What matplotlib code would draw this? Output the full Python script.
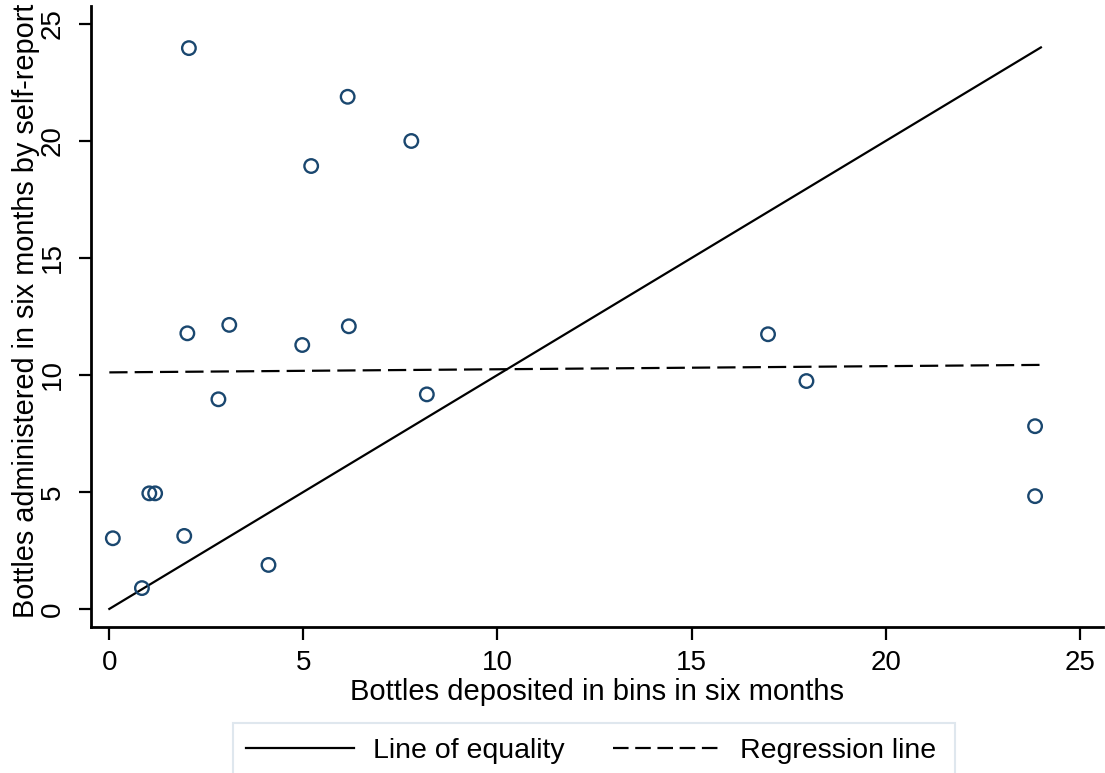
import matplotlib
matplotlib.use("Agg")
import matplotlib.pyplot as plt
from matplotlib.patches import Rectangle
import numpy as np

plt.rcParams['font.family'] = ['Liberation Sans', 'DejaVu Sans']

# Data
deposited = [0.09, 0.84, 1.03, 1.18, 1.93, 2.01, 2.05, 2.81, 3.09, 4.10,
             4.97, 5.20, 6.14, 6.17, 7.78, 8.18, 16.97, 17.96, 23.85, 23.85]
self_report = [3.02, 0.89, 4.94, 4.94, 3.12, 11.78, 23.97, 8.96, 12.14, 1.88,
               11.28, 18.93, 21.89, 12.08, 20.00, 9.17, 11.74, 9.74, 7.81, 4.82]

equality_x = [0, 24]
equality_y = [0, 24]
regression_x = [0, 24]
regression_y = [10.11, 10.43]

x_ticks = [0, 5, 10, 15, 20, 25]
y_ticks = [0, 5, 10, 15, 20, 25]

navy = '#1a476f'
W, H = 1105, 773

fig = plt.figure(figsize=(W/100, H/100), dpi=100)
ax = fig.add_axes([90.7/W, 1 - 626.7/H, (1103 - 90.7)/W, (626.7 - 6)/H])

ax.scatter(deposited, self_report, s=95, facecolors='none', edgecolors=navy,
           linewidths=1.7, zorder=3)
l1, = ax.plot(equality_x, equality_y, color='black', lw=1.6, label='Line of equality')
l2, = ax.plot(regression_x, regression_y, color='black', lw=1.6,
              label='Regression line')
l2.set_dashes([8.2, 3.2])

ax.set_xlim(-0.48, 25.6)
ax.set_ylim(-0.76, 25.77)
ax.set_xticks(x_ticks)
ax.set_yticks(y_ticks)
for s in ['top', 'right']:
    ax.spines[s].set_visible(False)
for s in ['left', 'bottom']:
    ax.spines[s].set_linewidth(2.0)
ax.tick_params(axis='both', direction='out', length=9, width=1.6, labelsize=20)
ax.tick_params(axis='x', pad=8)
ax.tick_params(axis='y', pad=9)
for lab in ax.get_yticklabels():
    lab.set_rotation(90)
    lab.set_va('center')

ax.set_xlabel('Bottles deposited in bins in six months', fontsize=21, labelpad=1.5)
ax.set_ylabel('Bottles administered in six months by self-report', fontsize=20.8)
ax.yaxis.set_label_coords(-0.0503, 0.5086)

leg = fig.legend(handles=[l1, l2], loc='upper left',
                 bbox_to_anchor=(233/W, 1 - 725/H), ncol=2, fontsize=20.5,
                 frameon=False, handlelength=3.8, columnspacing=1.72,
                 handletextpad=0.66, borderpad=0.45, borderaxespad=0)
leg.legend_handles[1].set_dashes([7.0, 3.0])

frame = Rectangle((233/W, 1 - 790/H), (955 - 233)/W, (790 - 722.7)/H,
                  transform=fig.transFigure, facecolor='none',
                  edgecolor='#dfe7ee', linewidth=1.5, clip_on=False)
fig.add_artist(frame)

fig.savefig('out.png', dpi=100, facecolor='white')
